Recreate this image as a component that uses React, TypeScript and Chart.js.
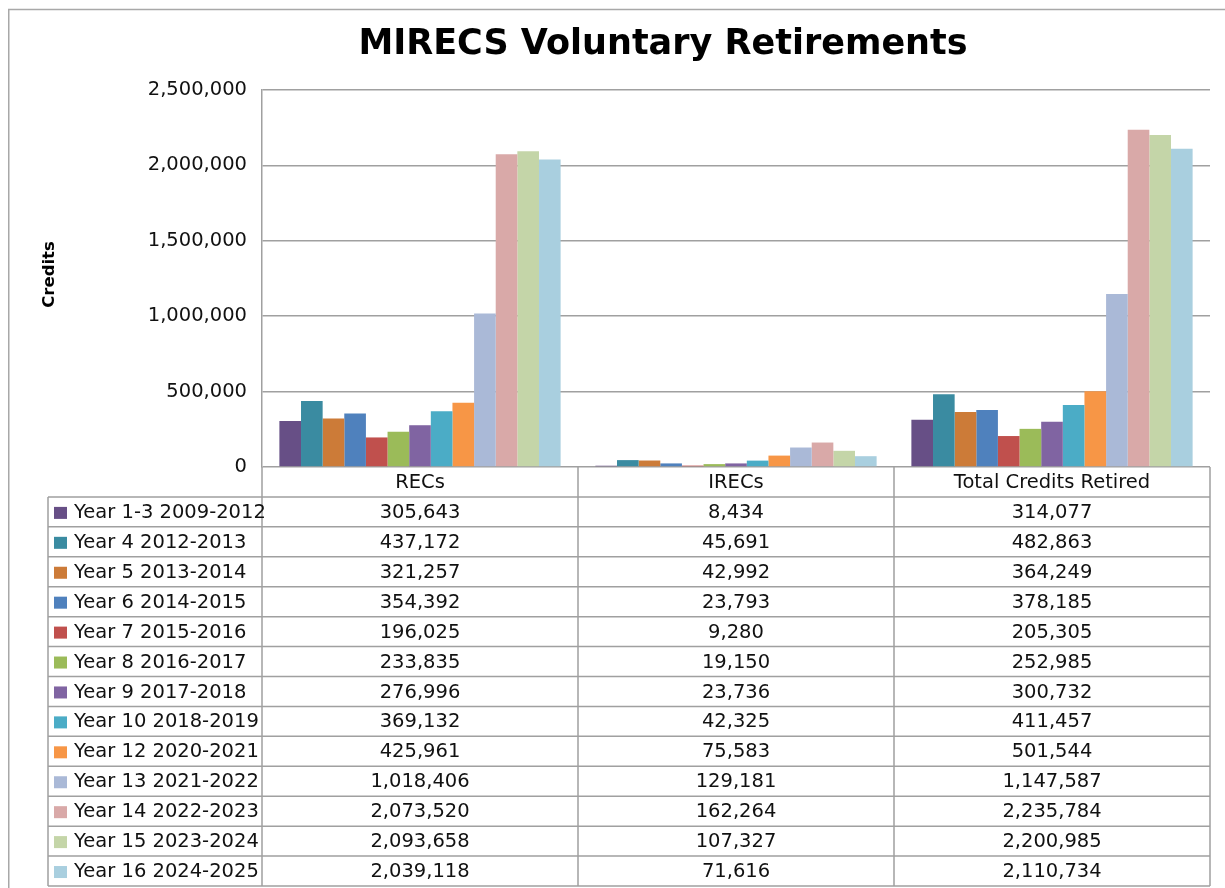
import React, { useEffect, useRef } from 'react';
import { Chart, registerables } from 'chart.js';

Chart.register(...registerables);

const chartTitle = 'MIRECS Voluntary Retirements';
const yAxisTitle = 'Credits';
const categories = ['RECs', 'IRECs', 'Total Credits Retired'];
const seriesNames = [
  'Year 1-3 2009-2012',
  'Year 4 2012-2013',
  'Year 5 2013-2014',
  'Year 6 2014-2015',
  'Year 7 2015-2016',
  'Year 8 2016-2017',
  'Year 9 2017-2018',
  'Year 10 2018-2019',
  'Year 12 2020-2021',
  'Year 13 2021-2022',
  'Year 14 2022-2023',
  'Year 15 2023-2024',
  'Year 16 2024-2025',
];
const recs = [305643, 437172, 321257, 354392, 196025, 233835, 276996, 369132, 425961, 1018406, 2073520, 2093658, 2039118];
const irecs = [8434, 45691, 42992, 23793, 9280, 19150, 23736, 42325, 75583, 129181, 162264, 107327, 71616];
const totals = [314077, 482863, 364249, 378185, 205305, 252985, 300732, 411457, 501544, 1147587, 2235784, 2200985, 2110734];
const seriesColors = [
  '#674F86', '#3A8BA1', '#CC7B38', '#4F81BD', '#C0504D', '#9BBB59', '#8064A2',
  '#4BACC6', '#F79646', '#AAB9D7', '#D9A9A8', '#C4D5A8', '#A9CFDF',
];
const yMin = 0;
const yMax = 2500000;
const yStep = 500000;

const FONT = 'DejaVu Sans';
const LINE = '#a0a0a0';
const TEXT = '#111111';
const fmt = (v: number) => v.toLocaleString('en-US');

const framePlugin = {
  id: 'frameAndTitles',
  beforeDraw(chart: any) {
    const ctx = chart.ctx;
    ctx.save();
    ctx.strokeStyle = '#a8a8a8';
    ctx.lineWidth = 1.5;
    ctx.beginPath();
    ctx.moveTo(8.75, chart.height);
    ctx.lineTo(8.75, 9.5);
    ctx.lineTo(chart.width, 9.5);
    ctx.stroke();
    ctx.restore();
  },
  afterDraw(chart: any) {
    const ctx = chart.ctx;
    const area = chart.chartArea;
    ctx.save();
    ctx.fillStyle = '#000';
    ctx.textAlign = 'center';
    ctx.textBaseline = 'middle';
    ctx.font = `bold 35px "${FONT}"`;
    ctx.fillText(chartTitle, 663, 45);
    ctx.translate(50, (area.top + area.bottom) / 2 - 4);
    ctx.rotate(-Math.PI / 2);
    ctx.font = `bold 16.5px "${FONT}"`;
    ctx.fillText(yAxisTitle, 0, 0);
    ctx.restore();
  },
};

const tablePlugin = {
  id: 'dataTable',
  afterDraw(chart: any) {
    const ctx = chart.ctx;
    const x = chart.scales.x;
    const area = chart.chartArea;
    const n = categories.length;
    const rows = seriesNames.length + 1;
    const top = area.bottom;
    const rowH = x.height / rows;
    const colW = x.getPixelForValue(1) - x.getPixelForValue(0);
    const bounds: number[] = [];
    for (let i = 0; i < n; i++) bounds.push(x.getPixelForValue(i) - colW / 2);
    bounds.push(x.getPixelForValue(n - 1) + colW / 2);
    const legendLeft = 48;
    const bottom = top + rows * rowH;

    ctx.save();
    ctx.strokeStyle = LINE;
    ctx.lineWidth = 1.5;
    ctx.beginPath();
    for (let r = 1; r <= rows; r++) {
      const y = top + r * rowH;
      ctx.moveTo(legendLeft, y);
      ctx.lineTo(bounds[n], y);
    }
    for (const b of bounds) {
      ctx.moveTo(b, top);
      ctx.lineTo(b, bottom);
    }
    ctx.moveTo(legendLeft, top + rowH);
    ctx.lineTo(legendLeft, bottom);
    ctx.stroke();

    ctx.fillStyle = TEXT;
    ctx.font = `19.5px "${FONT}"`;
    ctx.textBaseline = 'middle';
    ctx.textAlign = 'center';
    categories.forEach((c, i) => {
      ctx.fillText(c, x.getPixelForValue(i), top + rowH / 2 + 1);
    });
    const cols = [recs, irecs, totals];
    seriesNames.forEach((name, s) => {
      const cy = top + (s + 1.5) * rowH + 1;
      ctx.fillStyle = seriesColors[s];
      ctx.fillRect(legendLeft + 6, cy - 6, 13, 12);
      ctx.fillStyle = TEXT;
      ctx.textAlign = 'left';
      ctx.fillText(name, legendLeft + 26, cy);
      ctx.textAlign = 'center';
      cols.forEach((col, i) => {
        ctx.fillText(fmt(col[s]), x.getPixelForValue(i), cy);
      });
    });
    ctx.restore();
  },
};

export default function App() {
  const ref = useRef<HTMLCanvasElement | null>(null);

  useEffect(() => {
    if (!ref.current) return;
    const datasets = seriesNames.map((name, s) => ({
      label: name,
      data: [recs[s], irecs[s], totals[s]],
      backgroundColor: seriesColors[s],
      borderWidth: 0,
      categoryPercentage: 0.89,
      barPercentage: 1.0,
    }));
    const chart = new Chart(ref.current, {
      type: 'bar',
      data: { labels: categories, datasets },
      plugins: [framePlugin, tablePlugin],
      options: {
        animation: false,
        responsive: false,
        maintainAspectRatio: false,
        devicePixelRatio: 1,
        layout: { padding: { left: 37, right: 15, top: 90, bottom: 2 } },
        plugins: {
          legend: { display: false },
          tooltip: { enabled: false },
          title: { display: false },
        },
        scales: {
          x: {
            type: 'category',
            grid: { display: false },
            border: { display: false },
            ticks: { display: false },
            afterFit: (scale: any) => { scale.height = 419; },
          },
          y: {
            type: 'linear',
            min: yMin,
            max: yMax,
            afterFit: (scale: any) => { scale.width = 225; },
            ticks: {
              stepSize: yStep,
              padding: 15,
              color: TEXT,
              font: { family: FONT, size: 19.5 },
              callback: (v: any) => fmt(Number(v)),
            },
            grid: { color: LINE, lineWidth: 1.5, drawTicks: false },
            border: { display: true, color: LINE, width: 1.5 },
            title: { display: false },
          },
        },
      },
    });
    return () => chart.destroy();
  }, []);

  return (
    <div style={{ position: 'fixed', left: 0, top: 0, width: 1225, height: 888, overflow: 'hidden', background: '#fff' }}>
      <canvas ref={ref} width={1225} height={888} style={{ display: 'block' }} />
    </div>
  );
}
